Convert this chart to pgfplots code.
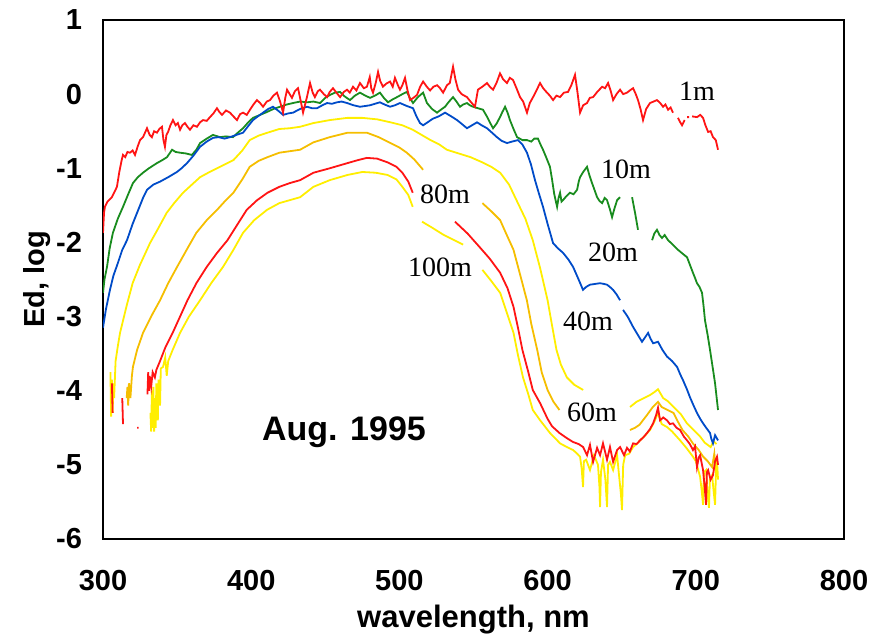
\documentclass[border=0pt]{standalone}
\usepackage{fontspec}
\setmainfont{Liberation Sans}
\newfontfamily\serifann{Liberation Serif}
\usepackage{pgfplots}
\pgfplotsset{compat=1.18}
\definecolor{cRed}{RGB}{255,20,20}
\definecolor{cGreen}{RGB}{25,140,30}
\definecolor{cBlue}{RGB}{0,75,200}
\definecolor{cYel}{RGB}{255,238,0}
\definecolor{cOra}{RGB}{245,190,0}
\begin{document}
\begin{tikzpicture}
\begin{axis}[
 scale only axis, width=370.5pt, height=259.5pt,
 xmin=300, xmax=800, ymin=-6, ymax=1,
 xtick={300,400,500,600,700,800}, xticklabels={300,400,500,600,700,800},
 ytick={-6,-5,-4,-3,-2,-1,0,1}, yticklabels={-6,-5,-4,-3,-2,-1,0,1},
 major tick length=0pt,
 tick label style={font=\fontsize{14.5}{17}\selectfont\bfseries},
 xticklabel style={yshift=-12pt},
 yticklabel style={xshift=-7pt},
 axis line style={line width=0.6pt},
 unbounded coords=jump,
 every axis plot/.append style={line width=0.9pt, mark=none},
]
% 40m yellow
\addplot[cYel] coordinates {(305,-3.75) (305.5,-4.35) (306,-3.85) (306.5,-4.3) (307,-3.9) (307.5,-4.1) (308.5,-3.6) (310,-3.4) (311.5,-3.22) (316,-2.85) (320,-2.55) (325,-2.3) (331.7,-2.01) (337,-1.82) (343,-1.60) (348,-1.47) (354,-1.33) (360,-1.22) (365.5,-1.12) (371,-1.06) (377,-1.00) (382,-0.95) (388,-0.89) (394,-0.76) (399,-0.62) (405,-0.56) (411,-0.52) (419,-0.47) (426,-0.46) (433,-0.44) (442,-0.39) (453,-0.35) (465,-0.32) (475,-0.32) (485,-0.34) (494,-0.38) (502,-0.42) (509,-0.48) (515,-0.55) (521,-0.62) (527,-0.68) (532,-0.75) (540,-0.80) (548,-0.85) (556,-0.92) (562,-0.98) (568,-1.06) (574,-1.22) (579,-1.43) (585,-1.68) (590,-1.97) (595,-2.35) (600,-2.78) (603,-3.12) (606,-3.45) (609,-3.65) (613,-3.82) (618,-3.92) (624,-3.99) (640,nan) (655.6,-4.22) (660,-4.15) (665,-4.1) (669,-4.06) (672,-4.02) (674.5,-3.98) (678,-4.10) (681,-4.14) (685,-4.22) (690,-4.32) (694,-4.44) (698,-4.52) (703,-4.62) (706,-4.70) (710,-4.76) (712,-4.68) (714,-4.72)};
% 60m orange-yellow
\addplot[cOra] coordinates {(316,-4.1) (316.5,-3.95) (317,-4.2) (317.5,-3.9) (318.5,-4.1) (319.5,-3.8) (320.2,-3.68) (323,-3.45) (327,-3.22) (333,-2.98) (338.5,-2.78) (344,-2.55) (350,-2.33) (357,-2.08) (363,-1.87) (370,-1.70) (377,-1.56) (382,-1.45) (388,-1.33) (394,-1.15) (399,-0.98) (405,-0.90) (411,-0.85) (419,-0.79) (426,-0.77) (433,-0.75) (442,-0.65) (453,-0.58) (465,-0.52) (478,-0.52) (486,-0.58) (494,-0.66) (500,-0.72) (505,-0.79) (510,-0.88) (516,-1.02) (530,nan) (556,-1.47) (562,-1.58) (568,-1.70) (572,-1.88) (577,-2.10) (581,-2.40) (586,-2.78) (589,-3.10) (593,-3.45) (596,-3.75) (600,-3.99) (604,-4.15) (608,-4.26) (630,nan) (655.6,-4.53) (659,-4.50) (662,-4.46) (667,-4.33) (671,-4.22) (674.5,-4.15) (677,-4.22) (681,-4.26) (685,-4.30) (688,-4.42) (691,-4.53) (695,-4.62) (698,-4.71) (702,-4.80) (705,-4.89) (708,-4.95) (711,-5.03) (712.5,-4.85) (713.5,-5.1) (714.5,-4.9)};
% 100m yellow
\addplot[cYel] coordinates {(332,-4.3) (332.5,-4.55) (333,-4.0) (333.5,-4.5) (334,-3.95) (334.5,-4.55) (335,-4.1) (335.5,-4.5) (336,-3.9) (337,-4.4) (337.5,-3.85) (338.5,-4.2) (339,-3.7) (340.5,-3.68) (342,-3.55) (343,-3.8) (344,-3.6) (347,-3.45) (352,-3.22) (358,-3.0) (365.5,-2.78) (373,-2.55) (381,-2.33) (388,-2.10) (394.5,-1.87) (402,-1.70) (410.7,-1.56) (419,-1.47) (426,-1.43) (433,-1.39) (442,-1.25) (453,-1.16) (465,-1.09) (475,-1.05) (484,-1.06) (492,-1.09) (498,-1.15) (502,-1.25) (506,-1.36) (509,-1.52) (512,nan) (515.3,-1.72) (522,-1.80) (530,-1.90) (537,-1.97) (543,-2.03) (550,nan) (556,-2.37) (562,-2.52) (568,-2.68) (572,-2.92) (577,-3.22) (580,-3.52) (583.4,-3.82) (587,-4.05) (590,-4.26) (595,-4.40) (601.6,-4.57) (605,-4.64) (608.4,-4.71) (613,-4.76) (617.2,-4.80) (620,-4.85) (621.9,-4.89) (623,-5.05) (623.9,-5.30) (624.5,-4.95) (626,-4.93) (628.6,-5.07) (631.3,-4.87) (634,-5.0) (635,-5.3) (635.4,-5.57) (636,-5.1) (637.4,-4.93) (639,-5.2) (640.1,-5.57) (640.8,-5.0) (642.1,-4.96) (644.2,-5.07) (646.9,-4.87) (648,-5.1) (649.5,-5.4) (650.2,-5.61) (651,-5.0) (652.3,-4.87) (655,-4.85) (657.7,-4.76) (660,-4.72) (662.4,-4.67) (666,-4.60) (669.1,-4.53) (672,-4.42) (674.5,-4.30) (677,-4.45) (680.6,-4.49) (684,-4.55) (689.4,-4.67) (694,-4.78) (698.1,-4.89) (700,-4.95) (702.9,-5.16) (704,-5.35) (704.9,-5.54) (705.5,-5.1) (706.9,-5.07) (708,-5.4) (708.9,-5.58) (709.5,-5.2) (711,-5.14) (712,-5.35) (713,-5.54) (713.6,-5.1) (714.3,-4.93) (715,-5.2)};
% 80m red
\addplot[cRed] coordinates {(330,-4.05) (330.5,-3.75) (331,-4.0) (331.5,-3.8) (332.5,-3.95) (333.5,-3.75) (335,-3.82) (336,-3.72) (338.5,-3.60) (342,-3.42) (347,-3.22) (352,-3.0) (357,-2.78) (363,-2.55) (370,-2.33) (377,-2.14) (384,-1.97) (390,-1.78) (397,-1.56) (404,-1.43) (411,-1.33) (419,-1.25) (426,-1.20) (433,-1.16) (442,-1.06) (453,-1.00) (465,-0.93) (472,-0.89) (478,-0.86) (485,-0.87) (492,-0.92) (498,-0.98) (502,-1.06) (506,-1.18) (509,-1.33) (520,nan) (537.5,-1.72) (546,-1.88) (554,-2.06) (561,-2.22) (568,-2.41) (573,-2.62) (577,-2.87) (580,-3.15) (583,-3.45) (587,-3.75) (590,-3.99) (595,-4.17) (600,-4.38) (603,-4.48) (608,-4.57) (613,-4.64) (617,-4.69) (621,-4.72) (624,-4.76) (626.6,-4.87) (628.6,-4.73) (630.7,-4.96) (633.4,-4.77) (635.4,-4.87) (637.4,-4.71) (640.1,-4.93) (642.1,-4.76) (644.2,-4.96) (646.9,-4.80) (648.9,-4.76) (651.6,-4.87) (653.6,-4.77) (655.5,-4.82) (657.7,-4.71) (660,-4.72) (662.4,-4.67) (665,-4.62) (667.1,-4.57) (669,-4.52) (671.2,-4.44) (673.2,-4.33) (674.5,-4.23) (675.9,-4.40) (678,-4.36) (680.6,-4.40) (682.5,-4.45) (684.6,-4.44) (687,-4.50) (689.4,-4.53) (692,-4.62) (694.1,-4.67) (696,-4.72) (698.1,-4.80) (699.5,-4.75) (700.8,-5.03) (702,-4.90) (702.9,-4.87) (704.9,-5.07) (706,-5.30) (706.9,-5.54) (707.5,-5.1) (708.3,-5.07) (710,-5.2) (711.6,-5.14) (713,-4.95) (714.3,-4.89) (715,-5.0)};
% stray red fragments at the left
\addplot[cRed] coordinates {(306,-3.9) (306.5,-4.3) (310,nan) (313,-4.1) (313.5,-4.45) (318,nan) (323,-4.5) (324,-4.5)};
% 10m green
\addplot[cGreen] coordinates {(300,-2.68) (301,-2.5) (302.7,-2.33) (304.5,-2.08) (306.7,-1.87) (310,-1.68) (313.5,-1.52) (317,-1.35) (320.2,-1.2) (323.5,-1.12) (327,-1.06) (331,-1.0) (336.4,-0.93) (340,-0.89) (343.2,-0.85) (346.6,-0.75) (349,-0.78) (352,-0.79) (356,-0.80) (360,-0.82) (363,-0.75) (365.5,-0.66) (370,-0.6) (374.2,-0.55) (379,-0.58) (383,-0.57) (387.7,-0.58) (391,-0.52) (394.5,-0.46) (398,-0.38) (401.2,-0.32) (406,-0.28) (410.7,-0.24) (415,-0.2) (419.4,-0.17) (424,-0.14) (428.2,-0.12) (433,-0.1) (437.7,-0.11) (442,-0.10) (446.4,-0.12) (450,-0.05) (453.2,-0.01) (456.5,0.02) (459.9,0.03) (463,-0.03) (466.7,-0.08) (470,-0.02) (473.4,0.02) (477,-0.02) (480.2,-0.05) (483.5,-0.02) (486.9,0.02) (489.5,-0.05) (492.3,-0.11) (495.5,-0.07) (498.4,-0.04) (502,0.0) (505.1,0.03) (507,-0.05) (509.2,-0.12) (512.5,-0.04) (516,0.02) (518.6,-0.12) (522,-0.2) (525.4,-0.25) (528,-0.21) (530.8,-0.17) (533.5,-0.1) (536.2,-0.04) (538.5,-0.1) (540.9,-0.17) (543,-0.14) (545.6,-0.12) (547.5,-0.15) (549.7,-0.17) (553,-0.19) (556.4,-0.21) (559,-0.3) (561,-0.38) (563.2,-0.46) (565.5,-0.4) (567.9,-0.31) (569.5,-0.24) (571.3,-0.17) (573,-0.25) (574.6,-0.35) (577,-0.47) (579.4,-0.58) (583,-0.62) (586.1,-0.62) (589,-0.64) (591,-0.6) (593.5,-0.6) (595,-0.67) (596.9,-0.75) (599,-0.85) (601.6,-0.98) (603,-1.15) (604.5,-1.35) (606.4,-1.52) (607.4,-1.4) (608.4,-1.33) (609.4,-1.45) (610.4,-1.43) (612.5,-1.38) (615.1,-1.33) (617.5,-1.35) (619.9,-1.29) (621,-1.18) (621.9,-1.12) (624,-1.05) (626.6,-0.98) (628.3,-1.1) (630,-1.2) (631.8,-1.3) (633.4,-1.39) (635,-1.44) (636.8,-1.47) (638.5,-1.40) (640.1,-1.43) (642,-1.55) (643.5,-1.66) (645,-1.55) (646.9,-1.43) (648.9,-1.39) (652,nan) (657,-1.39) (659,-1.6) (661,-1.83) (665,nan) (670.5,-1.97) (672,-1.88) (673.8,-1.83) (675.5,-1.9) (677.2,-1.94) (679,-1.9) (681.3,-1.97) (684.5,-2.03) (688,-2.1) (691,-2.15) (694.1,-2.2) (696,-2.3) (698.1,-2.41) (699.5,-2.48) (700.8,-2.55) (702.5,-2.6) (704.2,-2.68) (705.2,-2.85) (706.2,-3.05) (708,-3.25) (709.6,-3.45) (711.5,-3.7) (713,-3.9) (715,-4.26)};
% 20m blue
\addplot[cBlue] coordinates {(300,-3.15) (302,-2.9) (304.7,-2.64) (307,-2.45) (310,-2.28) (313,-2.1) (316.2,-1.97) (320,-1.75) (324,-1.55) (327,-1.4) (329.7,-1.29) (334,-1.22) (338.5,-1.18) (344,-1.12) (349.9,-1.05) (353,-1.0) (356.7,-0.93) (361,-0.83) (365.5,-0.71) (370,-0.64) (374.2,-0.59) (378,-0.58) (382,-0.60) (385.7,-0.58) (390,-0.55) (394.5,-0.52) (398,-0.43) (401.2,-0.35) (404.5,-0.3) (408,-0.25) (411.5,-0.2) (414.7,-0.17) (418,-0.22) (421.5,-0.28) (425,-0.26) (428.2,-0.25) (433,-0.2) (437.7,-0.17) (441,-0.19) (444.4,-0.19) (448,-0.15) (451.2,-0.12) (454.5,-0.13) (457.9,-0.11) (461,-0.1) (464.7,-0.12) (469,-0.15) (473.4,-0.17) (477,-0.16) (480.2,-0.15) (483.5,-0.13) (486.9,-0.11) (490,-0.14) (493.7,-0.17) (497,-0.15) (500.4,-0.12) (505,-0.16) (509.2,-0.19) (511.5,-0.3) (513.9,-0.39) (516,-0.42) (519,-0.38) (522.7,-0.33) (526.5,-0.3) (530.8,-0.25) (535,-0.3) (538.9,-0.35) (542,-0.4) (545.6,-0.46) (549,-0.42) (552.4,-0.38) (555.5,-0.42) (559.1,-0.46) (562.5,-0.52) (565.8,-0.58) (569,-0.63) (572.6,-0.66) (576,-0.64) (580,-0.62) (583,-0.68) (586.1,-0.79) (588.8,-0.95) (591.5,-1.16) (594,-1.33) (596.9,-1.52) (600,-1.75) (603.7,-2.01) (607,-2.08) (610.4,-2.14) (614,-2.23) (617.2,-2.33) (620.5,-2.48) (623.9,-2.64) (626,-2.6) (628.6,-2.57) (632,-2.56) (635.4,-2.55) (638,-2.56) (640.1,-2.57) (642,-2.6) (644.2,-2.64) (646.5,-2.7) (648.9,-2.78) (649.9,nan) (650.9,-2.91) (654,-3.0) (657.7,-3.14) (661,-3.25) (663.7,-3.34) (665.8,-3.28) (667.8,-3.22) (669.5,-3.3) (671.2,-3.36) (673,-3.35) (674.5,-3.34) (677.5,-3.45) (680.6,-3.54) (684,-3.6) (687.4,-3.68) (689.5,-3.78) (691.4,-3.86) (694,-3.98) (696.1,-4.09) (698.5,-4.2) (700.8,-4.30) (703,-4.38) (704.9,-4.44) (707,-4.5) (709.6,-4.57) (710.5,-4.65) (711.6,-4.71) (713,-4.6) (715,-4.67)};
% 1m red
\addplot[cRed] coordinates {(300,-1.87) (300.7,-1.6) (301.3,-1.52) (303,-1.45) (304.5,-1.42) (306,-1.39) (307.5,-1.33) (309.4,-1.25) (311,-1.05) (312.5,-0.9) (313.5,-0.82) (315,-0.85) (316.5,-0.78) (318.2,-0.79) (320,-0.76) (321.6,-0.82) (323.5,-0.7) (325,-0.62) (327,-0.58) (329.7,-0.46) (331.5,-0.55) (333,-0.58) (334.5,-0.5) (336.4,-0.52) (338,-0.47) (339.8,-0.44) (340.8,-0.62) (341.8,-0.71) (342.8,-0.55) (343.9,-0.51) (345.5,-0.42) (347.2,-0.35) (349,-0.42) (350.5,-0.39) (352,-0.48) (353.5,-0.42) (355.3,-0.39) (357,-0.44) (358.7,-0.48) (361,-0.42) (363.4,-0.44) (365.5,-0.38) (367.5,-0.35) (370,-0.36) (372.2,-0.31) (374.5,-0.26) (376.9,-0.19) (378.5,-0.24) (380.3,-0.28) (383,-0.22) (385.7,-0.25) (388,-0.3) (390.4,-0.35) (392.5,-0.27) (394.5,-0.25) (397,-0.28) (399.2,-0.21) (401.5,-0.14) (403.9,-0.08) (406,-0.12) (408,-0.17) (410.5,-0.1) (412.7,-0.08) (415,-0.02) (417.4,0.02) (419.5,-0.1) (421.5,-0.25) (423,-0.05) (424.2,0.06) (426,0.0) (427.5,-0.05) (429.5,0.04) (431.6,0.08) (433.5,-0.1) (435,-0.25) (437.5,-0.05) (439.7,0.15) (441.5,0.02) (443,-0.04) (445,0.04) (446.4,0.06) (449,0.0) (451.2,-0.04) (453,0.03) (455.2,0.08) (457.5,0.02) (460,-0.04) (462.5,0.03) (464.7,0.06) (466.5,0.02) (468.7,0.10) (471,0.05) (473.4,0.15) (476,0.08) (478.1,0.10) (480,0.23) (481,0.08) (482.2,0.02) (484,0.15) (485.6,0.30) (487,0.18) (488.9,0.10) (491,0.14) (493.7,0.17) (495.5,0.10) (497,0.22) (499,0.12) (500.4,0.06) (502,0.12) (503.8,0.22) (505.5,0.05) (507.2,-0.08) (509.5,-0.05) (511.9,-0.01) (514,0.1) (516,0.17) (518.5,0.1) (520.7,0.05) (523,0.1) (525.4,0.12) (527.4,0.08) (529.5,0.02) (532.1,0.12) (534,0.15) (536.2,0.37) (537.8,0.2) (539.6,0.06) (542,0.0) (545.6,-0.04) (548,-0.1) (551,-0.17) (553,0.06) (556,0.1) (559.1,0.15) (561,0.1) (563.2,0.06) (565.5,0.15) (567.9,0.28) (570,0.2) (572.6,0.15) (574.5,0.22) (576.7,0.19) (579,0.08) (581.4,-0.04) (583.5,-0.1) (586.1,-0.25) (588,-0.12) (590.2,-0.04) (592.5,0.05) (594.9,0.15) (597,0.08) (599.6,0.02) (601.5,-0.02) (603.7,-0.08) (606,-0.02) (608.4,-0.04) (611,0.02) (613.8,0.03) (616,0.12) (618.5,0.26) (620,0.05) (621.9,-0.25) (624,-0.15) (626.6,-0.12) (628.5,-0.05) (630.7,-0.04) (633.5,0.03) (636.8,0.10) (638.8,0.08) (640.8,0.15) (642.5,0.05) (644.2,-0.08) (646.5,0.0) (648.9,0.06) (651,0.0) (653.6,0.02) (655.5,0.05) (657.7,0.08) (659.5,0.0) (661,-0.08) (662.7,-0.2) (664.4,-0.35) (666.5,-0.2) (669.1,-0.12) (671.5,-0.1) (673.8,-0.08) (676,-0.12) (677.9,-0.17) (679.5,-0.14) (681.3,-0.21) (683,-0.18) (684.6,-0.25) (686,nan) (688,-0.32) (689.5,-0.38) (690.7,-0.42) (692.5,-0.35) (693.3,nan) (694.1,-0.31) (695.5,-0.31) (696.5,nan) (697.5,-0.3) (700.8,-0.31) (703,-0.28) (704.9,-0.32) (706.5,-0.42) (708.3,-0.51) (710,-0.5) (711.6,-0.58) (713.5,-0.62) (715,-0.75)};
% annotations
\node[font=\serifann\fontsize{14}{16}\selectfont] at (axis cs:700.8,0.04) {1m};
\node[font=\serifann\fontsize{14}{16}\selectfont] at (axis cs:652.9,-1.01) {10m};
\node[font=\serifann\fontsize{14}{16}\selectfont] at (axis cs:644.1,-2.13) {20m};
\node[font=\serifann\fontsize{14}{16}\selectfont] at (axis cs:627.3,-3.06) {40m};
\node[font=\serifann\fontsize{14}{16}\selectfont] at (axis cs:630,-4.29) {60m};
\node[font=\serifann\fontsize{14}{16}\selectfont] at (axis cs:530.8,-1.35) {80m};
\node[font=\serifann\fontsize{14}{16}\selectfont] at (axis cs:527.4,-2.33) {100m};
\node[font=\fontsize{17}{20}\selectfont\bfseries] at (axis cs:462.6,-4.56) {Aug. 1995};
\end{axis}
\node[rotate=90, anchor=base, font=\fontsize{14.5}{17}\selectfont\bfseries] at ([xshift=-29pt]current axis.west) {Ed, log};
\node[anchor=base, font=\fontsize{15.5}{18}\selectfont\bfseries] at ([yshift=-44.5pt]current axis.south) {wavelength, nm};
\pgfresetboundingbox
\path[use as bounding box] ([xshift=-51.5pt,yshift=-49pt]current axis.south west) rectangle ([xshift=15pt,yshift=10pt]current axis.north east);
\end{tikzpicture}
\end{document}
